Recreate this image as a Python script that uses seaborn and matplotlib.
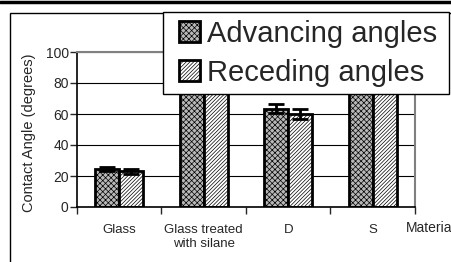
import pandas as pd
import numpy as np
import matplotlib
import matplotlib.pyplot as plt
import seaborn as sns
from matplotlib.patches import Rectangle
from matplotlib.lines import Line2D

# Data
materials = ['Glass', 'Glass treated\nwith silane', 'D', 'S']
advancing = [24.5, 104, 63.5, 106]
receding = [23, 102, 60, 104]
adv_err = [1.5, 2, 3, 2]
rec_err = [1.5, 2, 3.5, 2]
series = ['Advancing angles', 'Receding angles']

df = pd.DataFrame({
    'Material': materials * 2,
    'Angle': advancing + receding,
    'Type': [series[0]] * 4 + [series[1]] * 4,
})

sns.set_style('white')
plt.rcParams['font.family'] = ['Liberation Sans', 'DejaVu Sans']
plt.rcParams['hatch.linewidth'] = 0.5

fig = plt.figure(figsize=(4.52, 2.62), dpi=100)
ax = fig.add_axes([77 / 452, 1 - 207 / 262, (415 - 77) / 452, (207 - 52) / 262])

sns.barplot(data=df, x='Material', y='Angle', hue='Type', order=materials,
            hue_order=series, palette=['#b8b8b8', '#ffffff'], width=0.57,
            edgecolor='black', linewidth=2, errorbar=None, ax=ax, legend=True)

hatches = ['xxxxxx', '/////////']
n = len(materials)
for i, bar in enumerate(ax.patches[:2 * n]):
    bar.set_hatch(hatches[i // n])
    bar.set_clip_on(True)

# error bars placed at bar centers
errs = adv_err + rec_err
vals = advancing + receding
for bar, v, e in zip(ax.patches[:2 * n], vals, errs):
    xc = bar.get_x() + bar.get_width() / 2
    ax.errorbar(xc, v, yerr=e, fmt='none', ecolor='black', elinewidth=2,
                capsize=6, capthick=2)

ax.set_ylim(0, 100)
ax.set_xlim(-0.5, n - 0.5)
ax.set_yticks([0, 20, 40, 60, 80, 100])
ax.yaxis.grid(True, color='black', linewidth=0.8)
ax.set_axisbelow(True)
ax.tick_params(axis='y', labelsize=10, direction='out', length=5, width=1, left=True, pad=1)
ax.set_xticks(np.arange(n))
ax.set_xticklabels(materials, fontsize=9.5, linespacing=1.25)
ax.tick_params(axis='x', length=0, pad=12)
ax.set_xticks(np.arange(n + 1) - 0.5, minor=True)
ax.tick_params(axis='x', which='minor', direction='out', length=5, width=1, bottom=True)
ax.set_xlabel('')
ax.set_ylabel('Contact Angle (degrees)', fontsize=10.5)
ax.yaxis.set_label_coords((36 - 77) / 338, 0.48)

for side in ['top', 'right']:
    ax.spines[side].set_color('#808080')
    ax.spines[side].set_linewidth(1.5)
for side in ['left', 'bottom']:
    ax.spines[side].set_color('black')
    ax.spines[side].set_linewidth(1.2)

fig.text(406 / 452, 1 - 228 / 262, 'Materials', fontsize=10, va='center', ha='left')

# legend: separate white box, entries drawn on top of it
handles, labels = ax.get_legend_handles_labels()
ax.get_legend().remove()
fig.add_artist(Rectangle((163 / 452, 1 - 94 / 262), (449 - 163) / 452, 82 / 262,
                         transform=fig.transFigure, facecolor='white',
                         edgecolor='black', linewidth=1, zorder=3))
leg = fig.legend(handles, labels, loc='upper left',
                 bbox_to_anchor=(179 / 452, 1 - 20 / 262), fontsize=21,
                 frameon=False, handlelength=0.72, handleheight=0.72,
                 handletextpad=0.25, labelspacing=0.38, borderpad=0,
                 borderaxespad=0)
leg.set_zorder(4)
for h, hat in zip(leg.legend_handles, hatches):
    h.set_hatch(hat)
    h.set_linewidth(2)

# outer chart frame and top rule
fig.add_artist(Rectangle((10 / 452, -0.1), 1.2, 1 - 13 / 262 + 0.1,
                         transform=fig.transFigure, fill=False,
                         edgecolor='black', linewidth=1))
fig.add_artist(Line2D([0, 1], [1 - 1.5 / 262] * 2, transform=fig.transFigure,
                      color='black', linewidth=2.5))

fig.savefig('out.png', dpi=100)
